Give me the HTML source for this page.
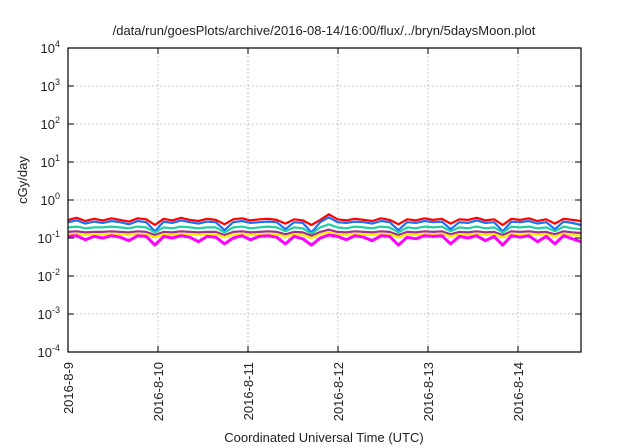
<!DOCTYPE html>
<html><head><meta charset="utf-8"><style>
html,body{margin:0;padding:0;background:#fff;}
svg{display:block;font-family:"Liberation Sans",sans-serif;}
</style></head><body>
<svg id="chart" width="640" height="448" viewBox="0 0 640 448">
<text x="324" y="35" text-anchor="middle" font-size="13" fill="#222">/data/run/goesPlots/archive/2016-08-14/16:00/flux/../bryn/5daysMoon.plot</text>
<g id="grid"></g>
<g id="series"></g>
<rect x="68" y="48" width="513" height="304" fill="none" stroke="#000" stroke-width="1.2"/>
<g id="axes"></g>
<text transform="translate(27,180) rotate(-90)" text-anchor="middle" font-size="13" fill="#222">cGy/day</text>
<text x="324" y="442" text-anchor="middle" font-size="13" fill="#222">Coordinated Universal Time (UTC)</text>
</svg>
<script>
const yExps=[-4,-3,-2,-1,0,1,2,3,4];
const xTickLabels=["2016-8-9","2016-8-10","2016-8-11","2016-8-12","2016-8-13","2016-8-14"];
const xTickDays=[0,1,2,3,4,5];
const seriesNames=["red","blue","green","purple","yellow","magenta"];
const seriesColors=["#ff0000","#1a6fff","#20d0a0","#a03090","#ffee00","#ff00ff"];
const redVals=[0.30,0.34,0.28,0.32,0.29,0.33,0.30,0.27,0.33,0.31,0.22,0.32,0.29,0.34,0.30,0.28,0.32,0.30,0.23,0.31,0.33,0.29,0.31,0.32,0.30,0.24,0.31,0.29,0.22,0.30,0.42,0.31,0.29,0.32,0.30,0.28,0.33,0.30,0.23,0.31,0.29,0.33,0.30,0.32,0.24,0.31,0.30,0.34,0.29,0.31,0.22,0.32,0.30,0.33,0.28,0.31,0.24,0.32,0.30,0.28];
const blueVals=[0.26,0.29,0.24,0.27,0.25,0.28,0.26,0.23,0.28,0.26,0.15,0.27,0.25,0.29,0.26,0.24,0.27,0.26,0.16,0.26,0.28,0.25,0.26,0.27,0.26,0.17,0.26,0.25,0.14,0.26,0.35,0.26,0.25,0.27,0.26,0.24,0.28,0.26,0.16,0.26,0.25,0.28,0.26,0.27,0.17,0.26,0.25,0.29,0.25,0.26,0.15,0.27,0.26,0.28,0.24,0.26,0.17,0.27,0.25,0.22];
const greenVals=[0.19,0.20,0.18,0.19,0.19,0.20,0.19,0.18,0.20,0.19,0.14,0.19,0.18,0.20,0.19,0.18,0.19,0.19,0.14,0.19,0.20,0.18,0.19,0.20,0.19,0.15,0.19,0.18,0.13,0.19,0.23,0.19,0.18,0.20,0.19,0.18,0.20,0.19,0.14,0.19,0.18,0.20,0.19,0.20,0.15,0.19,0.18,0.20,0.18,0.19,0.14,0.20,0.19,0.20,0.18,0.19,0.15,0.20,0.18,0.17];
const purpleVals=[0.145,0.15,0.14,0.145,0.145,0.15,0.145,0.14,0.15,0.145,0.12,0.145,0.14,0.15,0.145,0.14,0.145,0.145,0.12,0.145,0.15,0.14,0.145,0.15,0.145,0.125,0.145,0.14,0.115,0.145,0.165,0.145,0.14,0.15,0.145,0.14,0.15,0.145,0.12,0.145,0.14,0.15,0.145,0.15,0.125,0.145,0.14,0.15,0.14,0.145,0.12,0.15,0.145,0.15,0.14,0.145,0.125,0.15,0.14,0.135];
const yellowVals=[0.125,0.13,0.12,0.125,0.125,0.13,0.125,0.12,0.13,0.125,0.105,0.125,0.12,0.13,0.125,0.12,0.125,0.125,0.105,0.125,0.13,0.12,0.125,0.13,0.125,0.11,0.125,0.12,0.10,0.125,0.14,0.125,0.12,0.13,0.125,0.12,0.13,0.125,0.105,0.125,0.12,0.13,0.125,0.13,0.11,0.125,0.12,0.13,0.12,0.125,0.105,0.13,0.125,0.13,0.12,0.125,0.11,0.13,0.12,0.115];
const magentaVals=[0.11,0.115,0.09,0.11,0.10,0.115,0.105,0.085,0.115,0.11,0.065,0.11,0.10,0.115,0.105,0.08,0.11,0.105,0.07,0.10,0.115,0.09,0.11,0.115,0.105,0.07,0.11,0.095,0.065,0.10,0.12,0.11,0.09,0.115,0.105,0.085,0.115,0.11,0.065,0.105,0.095,0.115,0.11,0.115,0.07,0.11,0.10,0.115,0.085,0.11,0.065,0.115,0.105,0.115,0.08,0.11,0.07,0.115,0.095,0.08];
const allVals=[redVals,blueVals,greenVals,purpleVals,yellowVals,magentaVals];
const dayStart=0, dayEnd=5.7;

const L=68,R=581,T=48,B=352;
function xs(d){return L+(d-dayStart)/(dayEnd-dayStart)*(R-L);}
function ys(v){return B-(Math.log10(v)+4)/8*(B-T);}
const NS="http://www.w3.org/2000/svg";
const grid=document.getElementById('grid'),axes=document.getElementById('axes'),ser=document.getElementById('series');
function mk(tag,attrs,parent){const e=document.createElementNS(NS,tag);for(const k in attrs)e.setAttribute(k,attrs[k]);parent.appendChild(e);return e;}
yExps.forEach(ex=>{
  const y=ys(Math.pow(10,ex));
  if(ex>-4&&ex<4){const g=mk('line',{x1:L,x2:R,y1:y,y2:y,stroke:'#bbb','stroke-dasharray':'1.5,2.5'},grid);
  
  }
  const t1=mk('line',{x1:L,x2:L+6,y1:y,y2:y,stroke:'#000'},axes);
  
  
  const t2=mk('line',{x1:R-6,x2:R,y1:y,y2:y,stroke:'#000'},axes);
  
  
  const tx=mk('text',{x:L-8,y:y+5,'text-anchor':'end','font-size':'13',fill:'#222'},axes);
  
  
  tx.textContent='10';
  const sp=document.createElementNS(NS,'tspan');sp.setAttribute('dy','-6');sp.setAttribute('font-size','9');sp.textContent=String(ex);tx.appendChild(sp);
});
xTickDays.forEach((d,i)=>{
  const x=xs(d);
  if(d>dayStart){const g=mk('line',{x1:x,x2:x,y1:T,y2:B,stroke:'#bbb','stroke-dasharray':'1.5,2.5'},grid);
  
  }
  const t=mk('line',{x1:x,x2:x,y1:B-6,y2:B,stroke:'#000'},axes);
  
  
  const t2=mk('line',{x1:x,x2:x,y1:T,y2:T+6,stroke:'#000'},axes);
  
  
  const tx=mk('text',{transform:`translate(${x+5},${B+10}) rotate(-90)`,'text-anchor':'end','font-size':'13',fill:'#222'},axes);
  
  
  tx.textContent=xTickLabels[i];
});
allVals.forEach((vals,si)=>{
  const n=vals.length;
  const pts=vals.map((v,i)=>xs(dayStart+i*(dayEnd-dayStart)/(n-1)).toFixed(1)+','+ys(v).toFixed(1)).join(' ');
  const pl=mk('polyline',{points:pts,fill:'none',stroke:seriesColors[si],'stroke-width':si===5?3:2.2,'stroke-linejoin':'round'},ser);
  
  
});
</script>
</body></html>
